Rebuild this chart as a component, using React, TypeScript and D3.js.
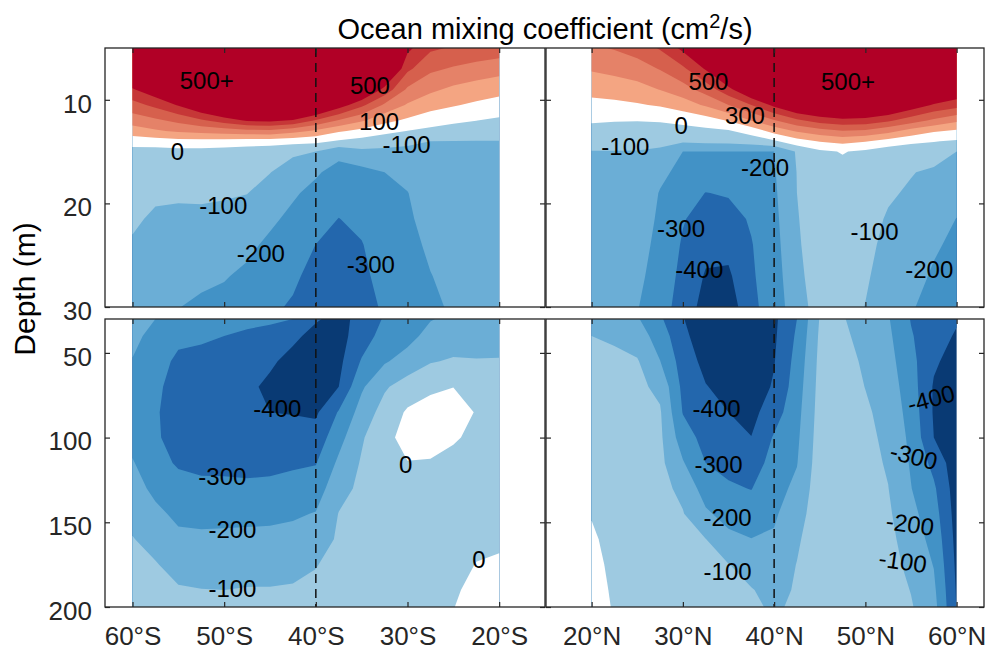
import React, { useEffect, useRef } from 'react';
import * as d3 from 'd3';

// latitudes of the profiles (negative = south)
const southLats = [-60, -57.5, -55, -52.5, -50, -47.5, -45, -42.5, -40, -37.5, -35, -32.5, -30, -27.5, -25, -22.5, -20];
const northLats = [20, 22.5, 25, 27.5, 30, 32.5, 35, 37.5, 40, 42.5, 45, 47.5, 50, 52.5, 55, 57.5, 60];

// depth levels (m) of the upper and lower panels
const upperDepths = [5, 7, 9, 10.5, 12, 13, 14, 15, 17, 19, 21.5, 24, 27, 30];
const lowerDepths = [30, 40, 55, 70, 85, 100, 115, 130, 145, 160, 175, 190, 200];

// mixing coefficient (cm2/s), one profile per latitude, surface first
const southUpper = [
  [840, 667, 490, 362, 246, 152, 48, -38, -54, -69, -88, -108, -134, -160],
  [950, 776, 576, 426, 281, 188, 57, -40, -63, -87, -112, -133, -159, -185],
  [1200, 946, 696, 509, 325, 215, 67, -32, -61, -89, -117, -141, -169, -198],
  [1400, 1150, 845, 614, 383, 234, 67, -32, -59, -86, -118, -147, -182, -215],
  [1400, 1200, 990, 722, 449, 252, 61, -42, -67, -91, -123, -155, -194, -225],
  [1500, 1300, 1100, 844, 511, 271, 56, -52, -75, -98, -139, -180, -217, -245],
  [1500, 1300, 1100, 883, 526, 279, 49, -65, -98, -136, -183, -218, -251, -285],
  [1500, 1300, 1100, 871, 487, 238, 37, -86, -138, -188, -222, -251, -284, -310],
  [1400, 1200, 1000, 702, 390, 183, 25, -100, -188, -226, -264, -301, -330, -360],
  [1300, 1100, 831, 558, 291, 115, -12, -170, -235, -261, -302, -321, -346, -370],
  [1280, 971, 659, 425, 215, 71, -35, -123, -230, -245, -276, -305, -322, -340],
  [960, 713, 467, 284, 128, 29, -60, -121, -200, -213, -229, -246, -265, -285],
  [526, 423, 283, 189, 82, -2, -84, -119, -167, -203, -216, -229, -244, -260],
  [417, 321, 220, 137, 44, -25, -100, -108, -125, -141, -162, -183, -203, -215],
  [390, 289, 179, 108, 20, -45, -101, -107, -118, -129, -143, -157, -173, -190],
  [378, 260, 155, 83, 1, -59, -102, -106, -116, -126, -140, -154, -167, -180],
  [362, 238, 134, 60, -16, -68, -102, -105, -114, -123, -136, -148, -159, -170],
];

const northUpper = [
  [285, 211, 131, 71, 11, -31, -75, -102, -112, -123, -136, -149, -164, -180],
  [307, 230, 145, 77, 5, -35, -74, -102, -113, -124, -138, -152, -168, -185],
  [344, 256, 164, 91, 3, -37, -77, -103, -114, -127, -142, -157, -176, -195],
  [410, 306, 203, 110, 8, -37, -78, -115, -177, -206, -218, -231, -245, -260],
  [527, 380, 259, 150, 24, -33, -85, -200, -229, -258, -294, -310, -325, -340],
  [688, 511, 342, 214, 55, -24, -76, -202, -252, -302, -336, -371, -409, -440],
  [950, 713, 467, 300, 107, -9, -71, -202, -247, -292, -333, -370, -416, -460],
  [1200, 946, 634, 400, 202, 39, -54, -202, -229, -256, -290, -305, -312, -320],
  [1300, 1050, 756, 525, 292, 137, -15, -200, -208, -216, -226, -236, -248, -260],
  [1500, 1200, 897, 639, 380, 212, 62, -90, -98, -100, -105, -110, -120, -135],
  [1500, 1250, 910, 676, 442, 262, 106, -19, -40, -50, -55, -58, -60, -65],
  [1500, 1250, 940, 706, 472, 297, 131, 6, -35, -45, -50, -55, -60, -65],
  [1500, 1250, 931, 697, 462, 285, 107, -19, -45, -60, -70, -80, -90, -102],
  [1500, 1200, 885, 651, 417, 233, 65, -60, -75, -90, -108, -120, -135, -150],
  [1500, 1200, 779, 568, 347, 162, 31, -84, -96, -110, -125, -140, -160, -190],
  [1400, 909, 669, 489, 280, 112, 4, -60, -114, -134, -160, -185, -214, -240],
  [1010, 803, 598, 443, 220, 85, -11, -100, -132, -163, -202, -225, -252, -280],
];

const southLower = [
  [-150, -172, -205, -236, -259, -232, -192, -159, -126, -96, -81, -65, -55],
  [-200, -235, -265, -285, -292, -290, -270, -225, -176, -131, -94, -74, -60],
  [-240, -280, -317, -330, -335, -330, -310, -268, -223, -177, -131, -92, -75],
  [-260, -290, -320, -340, -350, -345, -320, -280, -229, -181, -138, -98, -85],
  [-270, -300, -330, -355, -365, -355, -325, -277, -226, -180, -140, -100, -88],
  [-285, -310, -350, -380, -385, -370, -335, -277, -224, -178, -136, -95, -85],
  [-290, -320, -385, -420, -400, -370, -325, -277, -222, -175, -132, -95, -85],
  [-300, -380, -430, -445, -405, -360, -315, -263, -213, -167, -123, -92, -80],
  [-390, -430, -460, -450, -415, -360, -305, -250, -195, -148, -103, -85, -75],
  [-430, -435, -425, -400, -292, -235, -181, -132, -97, -87, -77, -67, -60],
  [-370, -350, -291, -214, -160, -111, -90, -80, -72, -65, -58, -52, -48],
  [-290, -260, -210, -113, -60, -25, -35, -55, -65, -65, -58, -52, -48],
  [-250, -230, -162, -52, 12, 30, -3, -40, -55, -60, -55, -50, -45],
  [-205, -170, -107, -17, 35, 50, -10, -35, -45, -48, -45, -40, -35],
  [-180, -150, -90, -1, 40, 10, -25, -35, -35, -30, -22, -10, -2],
  [-160, -140, -95, -40, -5, -20, -35, -35, -28, -15, 2, 20, 30],
  [-150, -130, -95, -60, -40, -40, -38, -30, -20, -10, 8, 25, 35],
];

const northLower = [
  [-120, -100, -85, -70, -58, -45, -32, -18, -3, 8, 15, 22, 26],
  [-130, -108, -88, -75, -65, -55, -45, -35, -25, -18, -12, -8, -5],
  [-190, -150, -92, -78, -70, -62, -55, -48, -42, -37, -32, -28, -25],
  [-285, -245, -198, -123, -90, -82, -76, -72, -68, -66, -64, -62, -60],
  [-395, -375, -345, -325, -305, -252, -192, -123, -95, -87, -80, -71, -65],
  [-470, -460, -430, -395, -370, -335, -300, -246, -184, -98, -89, -80, -75],
  [-490, -480, -460, -435, -400, -365, -328, -287, -237, -174, -97, -88, -80],
  [-490, -485, -470, -450, -430, -398, -350, -303, -252, -198, -140, -95, -85],
  [-420, -415, -405, -390, -345, -290, -262, -235, -212, -190, -160, -130, -112],
  [-300, -285, -265, -248, -232, -218, -204, -178, -148, -117, -97, -90, -85],
  [-95, -85, -75, -68, -62, -55, -48, -40, -32, -25, -18, -12, -8],
  [-92, -80, -65, -55, -48, -42, -38, -34, -30, -28, -26, -24, -22],
  [-150, -135, -115, -102, -85, -75, -68, -60, -55, -50, -45, -40, -38],
  [-192, -180, -165, -150, -135, -122, -110, -98, -85, -72, -62, -55, -50],
  [-305, -292, -270, -252, -237, -222, -210, -197, -172, -149, -126, -103, -92],
  [-340, -360, -385, -410, -410, -400, -330, -284, -257, -230, -204, -180, -165],
  [-390, -410, -440, -460, -470, -470, -460, -450, -440, -430, -420, -410, -405],
];

// contour levels and the colour of each band (lowest band first)
const levels = [-400, -300, -200, -100, 0, 100, 200, 300, 400, 500];
const bandColors = ['#093a74', '#2367ad', '#4292c6', '#6baed6', '#9ecae1', '#ffffff',
  '#f4a582', '#e58268', '#d6604d', '#c63737', '#b10026'];

const southTicks = [-60, -50, -40, -30, -20];
const northTicks = [20, 30, 40, 50, 60];
const upperTicks = [10, 20, 30];
const lowerTicks = [50, 100, 150, 200];

// contour labels
const southUpperLabels = [
  { text: '500+', lat: -51.9, depth: 8.1 },
  { text: '500', lat: -34.1, depth: 8.6 },
  { text: '100', lat: -33.1, depth: 12.1 },
  { text: '-100', lat: -30.1, depth: 14.3 },
  { text: '0', lat: -55.1, depth: 15.0 },
  { text: '-100', lat: -50.1, depth: 20.2 },
  { text: '-200', lat: -46.0, depth: 24.8 },
  { text: '-300', lat: -34.0, depth: 25.9 },
];
const northUpperLabels = [
  { text: '500', lat: 32.8, depth: 8.2 },
  { text: '500+', lat: 48.1, depth: 8.2 },
  { text: '300', lat: 36.8, depth: 11.5 },
  { text: '0', lat: 29.8, depth: 12.5 },
  { text: '-100', lat: 23.7, depth: 14.5 },
  { text: '-200', lat: 39.0, depth: 16.5 },
  { text: '-300', lat: 29.8, depth: 22.4 },
  { text: '-400', lat: 31.8, depth: 26.4 },
  { text: '-100', lat: 51.0, depth: 22.7 },
  { text: '-200', lat: 57.0, depth: 26.4 },
];
const southLowerLabels = [
  { text: '-400', lat: -44.2, depth: 83 },
  { text: '-300', lat: -50.2, depth: 123 },
  { text: '-200', lat: -49.1, depth: 154 },
  { text: '-100', lat: -49.1, depth: 189 },
  { text: '0', lat: -30.2, depth: 116 },
  { text: '0', lat: -22.2, depth: 172 },
];
const northLowerLabels = [
  { text: '-400', lat: 33.7, depth: 83 },
  { text: '-300', lat: 33.9, depth: 116 },
  { text: '-200', lat: 34.9, depth: 147 },
  { text: '-100', lat: 34.9, depth: 179 },
  { text: '-400', lat: 57.2, depth: 77, angle: -15 },
  { text: '-300', lat: 55.3, depth: 111, angle: 14 },
  { text: '-200', lat: 54.9, depth: 151, angle: 8 },
  { text: '-100', lat: 54.1, depth: 173, angle: 8 },
];

const W = 990;
const H = 651;
const FONT = '"Liberation Sans", Arial, Helvetica, sans-serif';
const INK = '#262626';

export default function App() {
  const svgRef = useRef<SVGSVGElement>(null);

  useEffect(() => {
    const svg = d3.select(svgRef.current);
    svg.selectAll('*').remove();

    const xSouth = d3.scaleLinear().domain([-63, -15]).range([105, 545]);
    const xNorth = d3.scaleLinear().domain([15, 63]).range([546, 984]);
    const yUpper = d3.scaleLinear().domain([5, 30]).range([48, 307]);
    const yLower = d3.scaleLinear().domain([30, 200]).range([319, 607]);

    const color = d3.scaleThreshold<number, string>().domain(levels).range(bandColors);

    const panels = [
      { profiles: southUpper, lats: southLats, depths: upperDepths, x: xSouth, y: yUpper, labels: southUpperLabels,
        xTicks: southTicks, yTicks: upperTicks, xLabels: false, yLabels: true, dash: -40, fmt: (d) => `${-d}°S` },
      { profiles: northUpper, lats: northLats, depths: upperDepths, x: xNorth, y: yUpper, labels: northUpperLabels,
        xTicks: northTicks, yTicks: upperTicks, xLabels: false, yLabels: false, dash: 40, fmt: (d) => `${d}°N` },
      { profiles: southLower, lats: southLats, depths: lowerDepths, x: xSouth, y: yLower, labels: southLowerLabels,
        xTicks: southTicks, yTicks: lowerTicks, xLabels: true, yLabels: true, dash: -40, fmt: (d) => `${-d}°S` },
      { profiles: northLower, lats: northLats, depths: lowerDepths, x: xNorth, y: yLower, labels: northLowerLabels,
        xTicks: northTicks, yTicks: lowerTicks, xLabels: true, yLabels: false, dash: 40, fmt: (d) => `${d}°N` },
    ];

    panels.forEach((p) => {
      const n = p.lats.length;
      const m = p.depths.length;
      const values: number[] = [];
      for (let j = 0; j < m; j++) for (let i = 0; i < n; i++) values.push(p.profiles[i][j]);

      // grid index -> lat / depth
      const latAt = d3.scaleLinear().domain(d3.range(n)).range(p.lats).clamp(true);
      const depthAt = d3.scaleLinear().domain(d3.range(m)).range(p.depths).clamp(true);
      const proj = d3.geoTransform({
        point(gx, gy) {
          this.stream.point(p.x(latAt(gx - 0.5)), p.y(depthAt(gy - 0.5)));
        },
      });
      const path = d3.geoPath(proj);
      const bands = d3.contours().size([n, m]).thresholds([-1e6, ...levels])(values);

      const g = svg.append('g');
      g.selectAll('path')
        .data(bands)
        .join('path')
        .attr('d', (d) => path(d))
        .attr('fill', (d) => color(d.value))
        .attr('stroke', 'none');

      const [x0, x1] = p.x.range();
      const [y0, y1] = p.y.range();

      // dashed 40° line
      g.append('line')
        .attr('x1', p.x(p.dash)).attr('x2', p.x(p.dash))
        .attr('y1', y0).attr('y2', y1)
        .attr('stroke', '#111')
        .attr('stroke-width', 1.5)
        .attr('stroke-dasharray', '9,6');

      // contour labels
      g.selectAll('text.clabel')
        .data(p.labels)
        .join('text')
        .attr('class', 'clabel')
        .attr('transform', (d) => `translate(${p.x(d.lat)},${p.y(d.depth)}) rotate(${d.angle || 0})`)
        .attr('text-anchor', 'middle')
        .attr('dominant-baseline', 'central')
        .attr('font-family', FONT)
        .attr('font-size', 24)
        .attr('fill', '#000')
        .text((d) => d.text);

      // axes, ticks pointing inward on all four sides
      const styleAxis = (sel) => {
        sel.select('.domain').remove();
        sel.selectAll('line').attr('stroke', INK).attr('stroke-width', 1.2);
        sel.selectAll('text').attr('fill', INK).attr('font-size', 26).attr('font-family', FONT);
      };
      const left = d3.axisLeft(p.y).tickValues(p.yTicks).tickSizeInner(-5).tickSizeOuter(0).tickPadding(13);
      if (!p.yLabels) left.tickFormat(() => '');
      g.append('g').attr('transform', `translate(${x0},0)`).call(left).call(styleAxis)
        .selectAll('text').attr('dy', '0.47em');
      g.append('g').attr('transform', `translate(${x1},0)`)
        .call(d3.axisRight(p.y).tickValues(p.yTicks).tickSizeInner(-5).tickSizeOuter(0).tickFormat(() => ''))
        .call(styleAxis);
      const bottom = d3.axisBottom(p.x).tickValues(p.xTicks).tickSizeInner(-5).tickSizeOuter(0).tickPadding(19.5);
      bottom.tickFormat(p.xLabels ? p.fmt : () => '');
      g.append('g').attr('transform', `translate(0,${y1})`).call(bottom).call(styleAxis);
      g.append('g').attr('transform', `translate(0,${y0})`)
        .call(d3.axisTop(p.x).tickValues(p.xTicks).tickSizeInner(-5).tickSizeOuter(0).tickFormat(() => ''))
        .call(styleAxis);

      g.append('rect')
        .attr('x', x0).attr('y', y0)
        .attr('width', x1 - x0).attr('height', y1 - y0)
        .attr('fill', 'none')
        .attr('stroke', INK)
        .attr('stroke-width', 1.3);
    });

    // title
    const title = svg.append('text')
      .attr('x', 545).attr('y', 39)
      .attr('text-anchor', 'middle')
      .attr('font-family', FONT)
      .attr('font-size', 29)
      .attr('fill', '#000');
    title.append('tspan').text('Ocean mixing coefficient (cm');
    title.append('tspan').attr('font-size', 20).attr('dy', -11).text('2');
    title.append('tspan').attr('dy', 11).text('/s)');

    // y label
    svg.append('text')
      .attr('transform', 'translate(35,289) rotate(-90)')
      .attr('text-anchor', 'middle')
      .attr('font-family', FONT)
      .attr('font-size', 30)
      .attr('fill', '#000')
      .text('Depth (m)');
  }, []);

  return (
    <svg
      ref={svgRef}
      width={W}
      height={H}
      style={{ position: 'absolute', left: 0, top: 0, background: '#fff' }}
    />
  );
}
